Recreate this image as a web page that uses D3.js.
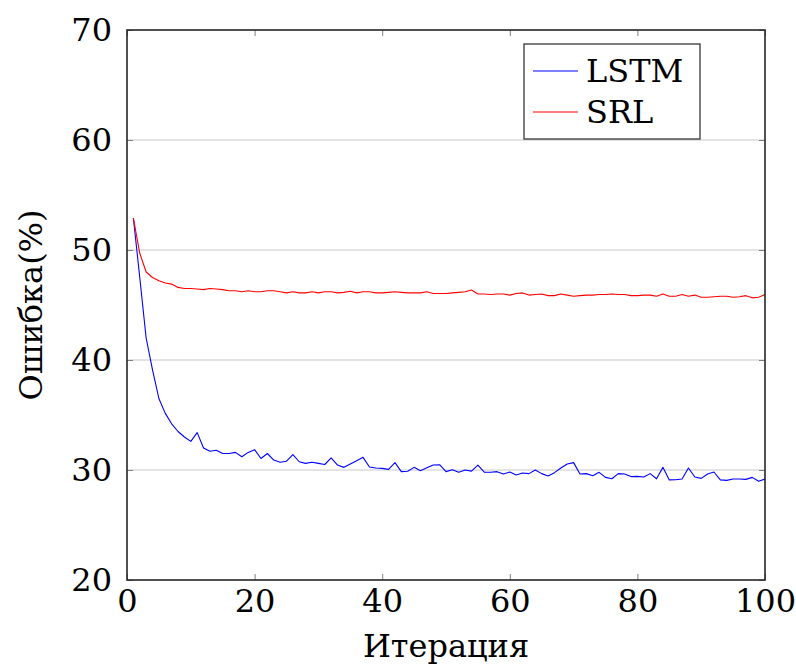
<html lang="ru">
<head>
<meta charset="UTF-8">
<title>Ошибка по итерациям</title>
<script src="https://d3js.org/d3.v7.min.js"></script>
<style>
    body { margin: 0; background: #fff; }
</style>
</head>
<body>
<svg id="chart" width="796" height="666"></svg>
<script>
    // iteration index (x categories)
    const iterations = d3.range(1, 101);

    const lstm = [
        52.9, 47.5, 42.0, 39.1, 36.5, 35.15, 34.2, 33.5, 33.0, 32.6,
        33.4, 32.0, 31.7, 31.8, 31.5, 31.5, 31.6, 31.2, 31.6, 31.85,
        31.05, 31.5, 30.9, 30.7, 30.8, 31.4, 30.75, 30.6, 30.7, 30.6,
        30.5, 31.1, 30.45, 30.24, 30.55, 30.85, 31.15, 30.27, 30.18, 30.15,
        30.06, 30.67, 29.85, 29.88, 30.24, 29.94, 30.2, 30.45, 30.48, 29.85,
        30.03, 29.79, 30.0, 29.9, 30.45, 29.8, 29.8, 29.85, 29.64, 29.82,
        29.55, 29.73, 29.67, 30.0, 29.67, 29.45, 29.76, 30.18, 30.55, 30.67,
        29.64, 29.67, 29.48, 29.79, 29.33, 29.2, 29.67, 29.64, 29.4, 29.42,
        29.36, 29.67, 29.2, 30.24, 29.1, 29.12, 29.18, 30.18, 29.36, 29.24,
        29.64, 29.82, 29.1, 29.06, 29.18, 29.18, 29.15, 29.33, 28.97, 29.18
    ];

    const srl = [
        52.9, 49.7, 48.0, 47.5, 47.2, 47.0, 46.9, 46.6, 46.5, 46.5,
        46.45, 46.4, 46.5, 46.45, 46.4, 46.3, 46.3, 46.2, 46.3, 46.2,
        46.2, 46.3, 46.3, 46.2, 46.1, 46.2, 46.1, 46.1, 46.2, 46.1,
        46.2, 46.2, 46.1, 46.15, 46.25, 46.1, 46.2, 46.2, 46.1, 46.1,
        46.15, 46.2, 46.15, 46.1, 46.1, 46.1, 46.2, 46.05, 46.05, 46.05,
        46.1, 46.15, 46.2, 46.36, 46.0, 46.0, 45.95, 46.0, 46.0, 45.9,
        46.05, 46.1, 45.9, 45.95, 46.0, 45.85, 45.85, 46.0, 45.9, 45.8,
        45.85, 45.9, 45.9, 45.95, 45.95, 46.0, 45.95, 45.95, 45.85, 45.85,
        45.9, 45.9, 45.8, 46.0, 45.8, 45.8, 45.95, 45.8, 45.9, 45.7,
        45.7, 45.75, 45.8, 45.8, 45.7, 45.75, 45.85, 45.65, 45.7, 45.95
    ];

    const xTicks = [0, 20, 40, 60, 80, 100];
    const yTicks = [20, 30, 40, 50, 60, 70];
    const seriesNames = ['LSTM', 'SRL'];
    const seriesColors = ['#0000ff', '#ff0000'];
    const xTitle = 'Итерация';
    const yTitle = 'Ошибка(%)';

    const serif = 'DejaVu Serif';
    const margin = { left: 127, right: 31, top: 30, bottom: 86 };
    const width = 796, height = 666;
    const svg = d3.select('#chart');

    const x = d3.scaleLinear().domain([0, 100]).range([margin.left, width - margin.right]);
    const y = d3.scaleLinear().domain([20, 70]).range([height - margin.bottom, margin.top]);

    // horizontal grid
    svg.append('g')
        .selectAll('line')
        .data(yTicks.slice(1, -1))
        .join('line')
        .attr('x1', x(0)).attr('x2', x(100))
        .attr('y1', d => y(d)).attr('y2', d => y(d))
        .attr('stroke', '#c8c8c8')
        .attr('stroke-width', 1);

    // axes with inward ticks on all four sides
    const tickLen = 6;
    const tickStyle = g => g.selectAll('.tick line').attr('stroke', '#7f7f7f').attr('stroke-width', 1);
    const labelStyle = g => g.attr('font-family', serif).attr('font-size', 32)
        .selectAll('.tick text').attr('fill', '#000');

    svg.append('g')
        .attr('transform', `translate(0,${y(20)})`)
        .call(d3.axisBottom(x).tickValues(xTicks).tickSizeInner(-tickLen).tickSizeOuter(0).tickPadding(12))
        .call(g => g.select('.domain').remove())
        .call(tickStyle)
        .call(labelStyle)
        .call(g => g.selectAll('.tick text').attr('dy', '0.62em'));

    svg.append('g')
        .attr('transform', `translate(0,${y(70)})`)
        .call(d3.axisTop(x).tickValues(xTicks).tickSizeInner(-tickLen).tickSizeOuter(0).tickFormat(''))
        .call(g => g.select('.domain').remove())
        .call(tickStyle);

    svg.append('g')
        .attr('transform', `translate(${x(0)},0)`)
        .call(d3.axisLeft(y).tickValues(yTicks).tickSizeInner(-tickLen).tickSizeOuter(0).tickPadding(15))
        .call(g => g.select('.domain').remove())
        .call(tickStyle)
        .call(labelStyle)
        .call(g => g.selectAll('.tick text').attr('dy', '0.33em'));

    svg.append('g')
        .attr('transform', `translate(${x(100)},0)`)
        .call(d3.axisRight(y).tickValues(yTicks).tickSizeInner(-tickLen).tickSizeOuter(0).tickFormat(''))
        .call(g => g.select('.domain').remove())
        .call(tickStyle);

    // data lines
    const line = d3.line()
        .x((d, i) => x(iterations[i]))
        .y(d => y(d));

    [lstm, srl].forEach((values, k) => {
        svg.append('path')
            .datum(values)
            .attr('fill', 'none')
            .attr('stroke', seriesColors[k])
            .attr('stroke-width', 1.1)
            .attr('stroke-linejoin', 'round')
            .attr('d', line);
    });

    // frame
    svg.append('rect')
        .attr('x', x(0)).attr('y', y(70))
        .attr('width', x(100) - x(0)).attr('height', y(20) - y(70))
        .attr('fill', 'none')
        .attr('stroke', '#262626')
        .attr('stroke-width', 1.6);

    // axis titles
    svg.append('text')
        .attr('x', (x(0) + x(100)) / 2)
        .attr('y', 657)
        .attr('text-anchor', 'middle')
        .attr('font-family', serif)
        .attr('font-size', 32)
        .text(xTitle);

    svg.append('text')
        .attr('transform', `translate(42,${(y(20) + y(70)) / 2}) rotate(-90)`)
        .attr('text-anchor', 'middle')
        .attr('font-family', serif)
        .attr('font-size', 32)
        .text(yTitle);

    // legend
    const legend = svg.append('g');
    legend.append('rect')
        .attr('x', 524).attr('y', 44)
        .attr('width', 176).attr('height', 95)
        .attr('fill', '#fff')
        .attr('stroke', '#262626')
        .attr('stroke-width', 1.2);

    seriesNames.forEach((name, k) => {
        const ly = 71 + k * 41;
        legend.append('line')
            .attr('x1', 533).attr('x2', 578)
            .attr('y1', ly).attr('y2', ly)
            .attr('stroke', seriesColors[k])
            .attr('stroke-width', 1.1);
        legend.append('text')
            .attr('x', 586).attr('y', ly + 11)
            .attr('font-family', serif)
            .attr('font-size', 32)
            .text(name);
    });
</script>
</body>
</html>
